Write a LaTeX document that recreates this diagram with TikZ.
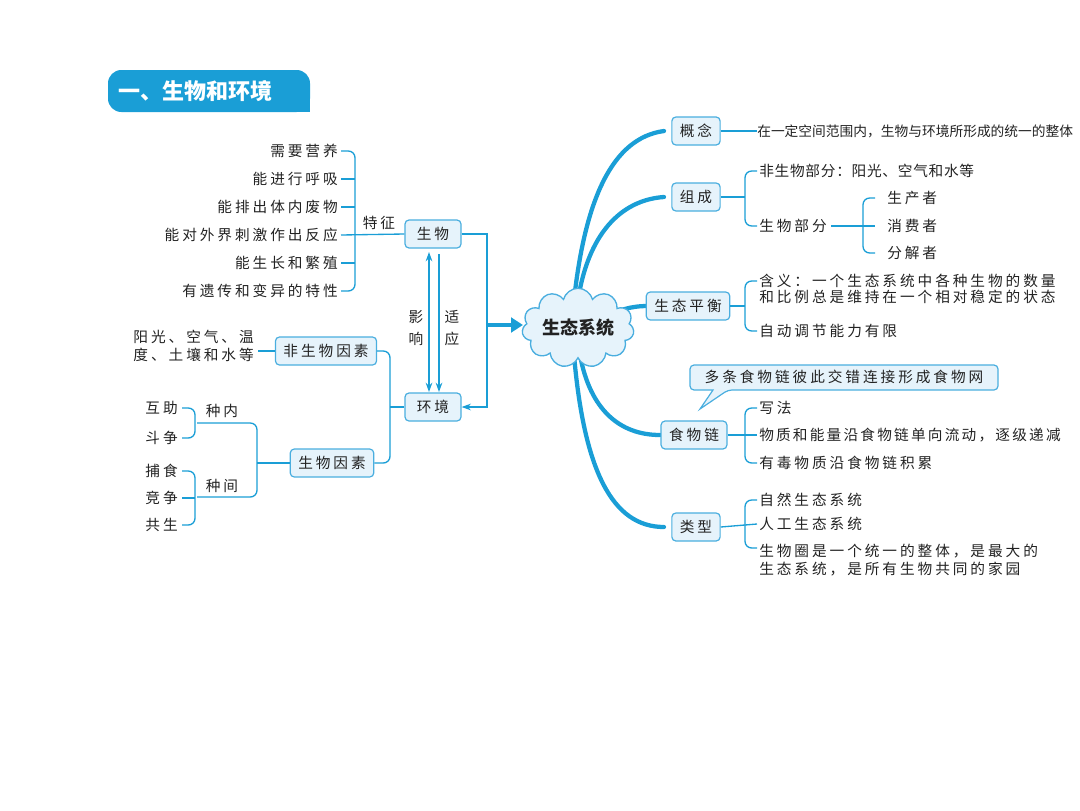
\documentclass[tikz,border=0pt]{standalone}
\usepackage{fontspec}
\setmainfont{Noto Sans CJK SC}
\usetikzlibrary{shapes.symbols,arrows.meta}
\definecolor{lb}{HTML}{1A9ED6}
\definecolor{bf}{HTML}{E6F3FB}
\definecolor{bd}{HTML}{4AAEDF}
\definecolor{tx}{HTML}{222222}
\newcommand{\tz}{\fontsize{11}{13}\selectfont\addfontfeature{LetterSpace=20}}
\newcommand{\ts}{\fontsize{10.3}{12}\selectfont}
\begin{document}
\begin{tikzpicture}[x=0.75pt,y=-0.75pt,
  box/.style={draw=bd,fill=bf,line width=0.9pt,rounded corners=3pt,minimum height=21pt,inner xsep=6pt,font=\tz,text=tx},
  lt/.style={inner sep=0pt,font=\tz,text=tx},
  ln/.style={draw=lb,line width=1pt},
  br/.style={draw=lb,line width=1pt,rounded corners=5pt},
  bb/.style={draw=lb,line width=3.2pt,line cap=round}]
\useasboundingbox (0,0) rectangle (1080,810);
% title
\fill[lb,rounded corners=10pt] (108,70) rectangle (310,112);
\fill[lb] (280,90) rectangle (310,112);
\node[anchor=west,text=white,font=\fontsize{16.5}{18}\selectfont\bfseries,inner sep=0pt] (title) at (118,91) {一、生物和环境};
% left characteristics
\foreach \y/\t/\n in {151/需要营养/a1,179/能进行呼吸/a2,207/能排出体内废物/a3,235/能对外界刺激作出反应/a4,263/能生长和繁殖/a5,291/有遗传和变异的特性/a6}
  \node[lt,anchor=east] (\n) at (338,\y) {\t};
\draw[br] (a1.east)++(3,0) -- (355,151) -- (355,291) -- (341,291);
\foreach \y in {179,207,263} \draw[ln] (341,\y) -- (355,\y);
\node[box,minimum width=42pt] (sw) at (433,234) {生物};
\node[box,minimum width=42pt] (hj) at (433,407) {环境};
\draw[ln] (341,235) -- (sw.west);
\node[lt] (tz) at (379,223) {特征};
\draw[ln,-{Stealth[length=7pt,width=5pt]}] (sw.east) -- (487,234) -- (487,407) -- (hj.east);
\draw[{Stealth[length=7pt,width=5pt]}-{Stealth[length=7pt,width=5pt]},ln] (429,252) -- (429,392);
\draw[ln,-{Stealth[length=7pt,width=5pt]}] (439,254) -- (439,392);
\node[lt,align=center] (yx) at (416,328) {影\\[4pt]响};
\node[lt,align=center] (sy) at (452,328) {适\\[4pt]应};
% factors
\node[box] (fs) at (326,351) {非生物因素};
\node[box] (swy) at (332,463) {生物因素};
\node[lt,anchor=east,align=left] (fst) at (254,346) {阳光、空气、温\\度、土壤和水等};
\draw[ln] (258,351) -- (fs.west);
\draw[br] (fs.east) -- (390,351) -- (390,463) -- (swy.east);
\draw[ln] (390,407) -- (hj.west);
\draw[ln] (swy.west) -- (257,463);
\draw[br] (197,423) -- (257,423) -- (257,497) -- (197,497);
\node[lt] (zn) at (222,411) {种内};
\node[lt] (zj) at (222,486) {种间};
\node[lt,anchor=east] (b1) at (178,408) {互助};
\node[lt,anchor=east] (b2) at (178,438) {斗争};
\node[lt,anchor=east] (b3) at (178,471) {捕食};
\node[lt,anchor=east] (b4) at (178,498) {竞争};
\node[lt,anchor=east] (b5) at (178,525) {共生};
\draw[br] (182,408) -- (195,408) -- (195,438) -- (182,438);
\draw[br] (182,471) -- (195,471) -- (195,525) -- (182,525);
\draw[ln] (182,498) -- (195,498);
% center
\draw[lb,line width=3pt,-{Triangle[length=9pt,width=11pt]}] (487,325) -- (523,325);
% branches
\draw[bb] (574,300) .. controls (585,200) and (612,138) .. (664,131);
\draw[bb] (578,300) .. controls (588,235) and (620,200) .. (664,197);
\draw[bb] (600,318) .. controls (620,310) and (630,306) .. (648,306);
\draw[bb] (580,355) .. controls (590,410) and (620,435) .. (660,435);
\draw[bb] (574,355) .. controls (584,470) and (612,527) .. (664,527);
\node[cloud,cloud puffs=11,aspect=1.7,draw=bd,fill=bf,line width=1pt,minimum width=84pt,minimum height=50pt,inner sep=0pt,font=\fontsize{13.5}{15}\selectfont\bfseries,text=tx] (st) at (578,328) {生态系统};
% right boxes
\node[box] (gn) at (696,131) {概念};
\node[box] (zc) at (696,197) {组成};
\node[box] (ph) at (688,306) {生态平衡};
\node[box] (sl) at (694,435) {食物链};
\node[box] (lx) at (696,527) {类型};
\node[lt,anchor=west,font=\ts] (gnt) at (757,131) {在一定空间范围内，生物与环境所形成的统一的整体};
\draw[ln] (gn.east) -- (gnt.west);
% zucheng
\draw[ln] (zc.east) -- (745,197);
\draw[br] (757,171) -- (745,171) -- (745,226) -- (757,226);
\node[lt,anchor=west,font=\fontsize{11}{13}\selectfont\addfontfeature{LetterSpace=5}] (z1) at (759,171) {非生物部分：阳光、空气和水等};
\node[lt,anchor=west] (z2) at (759,226) {生物部分};
\draw[ln] (z2.east)++(4,0) -- (875,226);
\draw[br] (875,198) -- (863,198) -- (863,253) -- (875,253);
\node[lt,anchor=west] (p1) at (887,198) {生产者};
\node[lt,anchor=west] (p2) at (887,226) {消费者};
\node[lt,anchor=west] (p3) at (887,253) {分解者};
% pingheng
\draw[ln] (ph.east) -- (745,306);
\draw[br] (757,281) -- (745,281) -- (745,331) -- (757,331);
\node[lt,anchor=west,align=left] (h1) at (759,289) {含义：一个生态系统中各种生物的数量\\[-1pt]和比例总是维持在一个相对稳定的状态};
\node[lt,anchor=west] (h2) at (759,331) {自动调节能力有限};
% bubble
\draw[bd,fill=bf,line width=0.9pt,rounded corners=3pt] (690,365) -- (998,365) -- (998,390) -- (728,390) [sharp corners] -- (700,409) -- (713,390) [rounded corners=3pt] -- (690,390) -- cycle;
\node[lt] (bub) at (844,377) {多条食物链彼此交错连接形成食物网};
% food chain
\draw[ln] (sl.east) -- (757,435);
\draw[br] (757,408) -- (745,408) -- (745,463) -- (757,463);
\node[lt,anchor=west] (f1) at (759,408) {写法};
\node[lt,anchor=west,font=\fontsize{11}{13}\selectfont\addfontfeature{LetterSpace=15}] (f2) at (759,435) {物质和能量沿食物链单向流动，逐级递减};
\node[lt,anchor=west] (f3) at (759,463) {有毒物质沿食物链积累};
% types
\draw[ln] (lx.east) -- (757,524);
\draw[br] (757,500) -- (745,500) -- (745,548) -- (757,548);
\node[lt,anchor=west] (t1) at (759,500) {自然生态系统};
\node[lt,anchor=west] (t2) at (759,524) {人工生态系统};
\node[lt,anchor=west,align=left] (t3) at (759,560) {生物圈是一个统一的整体，是最大的\\[1pt]生态系统，是所有生物共同的家园};
\end{tikzpicture}
\end{document}
